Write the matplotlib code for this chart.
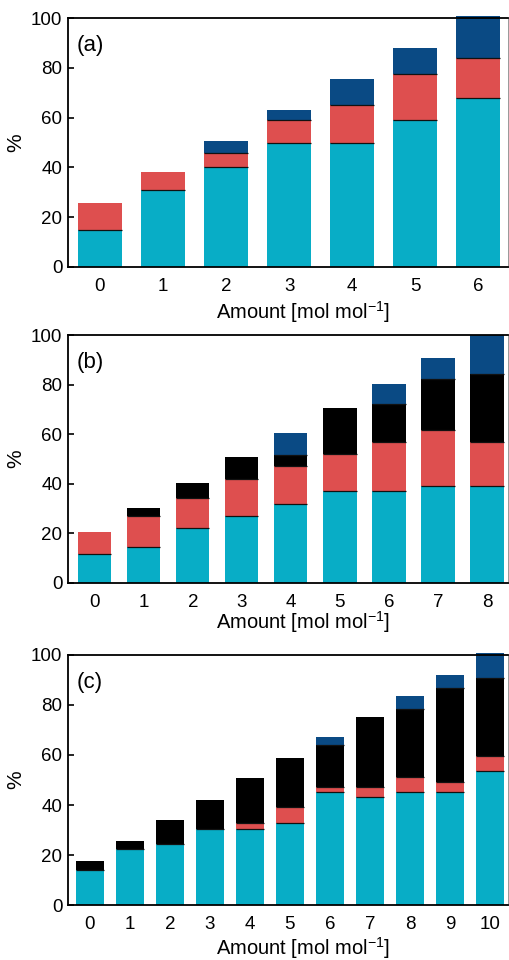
import numpy as np
import matplotlib.pyplot as plt

plt.rcParams['font.family'] = ['Liberation Sans', 'DejaVu Sans']
plt.rcParams['mathtext.default'] = 'regular'

CYAN = '#08adc6'
RED = '#de4f4f'
BLACK = '#000000'
NAVY = '#0a4a84'

# panel (a)
a_x = [0, 1, 2, 3, 4, 5, 6]
a_cyan = [15, 31, 40, 50, 50, 59, 68]
a_red = [10.5, 7, 6, 9, 15, 18.5, 16]
a_black = [0, 0, 0, 0, 0, 0, 0]
a_navy = [0, 0, 4.5, 4, 10.5, 10.5, 17]

# panel (b)
b_x = [0, 1, 2, 3, 4, 5, 6, 7, 8]
b_cyan = [11.7, 14.4, 22.1, 27.1, 31.9, 36.9, 36.9, 39.2, 39.2]
b_red = [8.7, 12.7, 12.1, 14.9, 15.1, 15.0, 19.9, 22.5, 17.6]
b_black = [0, 3.1, 6.1, 8.6, 4.7, 18.6, 15.3, 20.4, 27.5]
b_navy = [0, 0, 0, 0, 8.7, 0, 8.2, 8.5, 15.7]

# panel (c)
c_x = [0, 1, 2, 3, 4, 5, 6, 7, 8, 9, 10]
c_cyan = [14, 22.4, 24.3, 30.4, 30.4, 32.9, 45.1, 43.3, 45.1, 45.1, 53.6]
c_red = [0, 0, 0, 0, 2.5, 6.2, 2.0, 3.8, 6.0, 4.2, 6.0]
c_black = [3.6, 3.2, 9.7, 11.6, 17.8, 19.6, 16.9, 28.2, 27.3, 37.6, 31.3]
c_navy = [0, 0, 0, 0, 0, 0, 3.1, 0, 5.3, 5.1, 9.8]

panels = [
    ('(a)', a_x, [a_cyan, a_red, a_black, a_navy], [0.722, 0.981], (-0.51, 6.47), 0.70, 3),
    ('(b)', b_x, [b_cyan, b_red, b_black, b_navy], [0.393, 0.651], (-0.55, 8.43), 0.68, -1),
    ('(c)', c_x, [c_cyan, c_red, c_black, c_navy], [0.057, 0.318], (-0.55, 10.45), 0.70, 1),
]
colors = [CYAN, RED, BLACK, NAVY]

fig = plt.figure(figsize=(5.1, 9.6), dpi=100)

for tag, x, series, (y0, y1), xlim, width, lpad in panels:
    ax = fig.add_axes([0.133, y0, 0.996 - 0.133, y1 - y0])
    x = np.array(x)
    bottom = np.zeros(len(x))
    for vals, col in zip(series, colors):
        vals = np.array(vals, dtype=float)
        ax.bar(x, vals, width, bottom=bottom, color=col, edgecolor='none', clip_on=False, zorder=2)
        # thin dark seam where a segment sits on another one
        seam = (vals > 0) & (bottom > 0)
        ax.hlines(bottom[seam], x[seam] - width / 2, x[seam] + width / 2,
                  colors='#111111', linewidth=0.9, zorder=3)
        bottom = bottom + vals

    ax.set_xlim(*xlim)
    ax.set_ylim(0, 100)
    ax.set_xticks(x)
    ax.set_yticks([0, 20, 40, 60, 80, 100])
    ax.tick_params(axis='y', direction='in', length=4, width=1.2, labelsize=13.5, pad=4)
    ax.tick_params(axis='x', length=0, labelsize=13.5, pad=8)
    for s in ['left', 'bottom', 'top']:
        ax.spines[s].set_linewidth(1.3)
    ax.spines['right'].set_linewidth(0.6)
    ax.spines['right'].set_color('#888888')
    ax.set_ylabel('%', fontsize=15, labelpad=4)
    ax.set_xlabel('Amount [mol mol$^{-1}$]', fontsize=14.5, labelpad=lpad)
    ax.xaxis.label.set_x(0.535)
    ax.text(0.02, 0.89, tag, transform=ax.transAxes, fontsize=16, va='center', ha='left')

plt.savefig('out.png', dpi=100)
